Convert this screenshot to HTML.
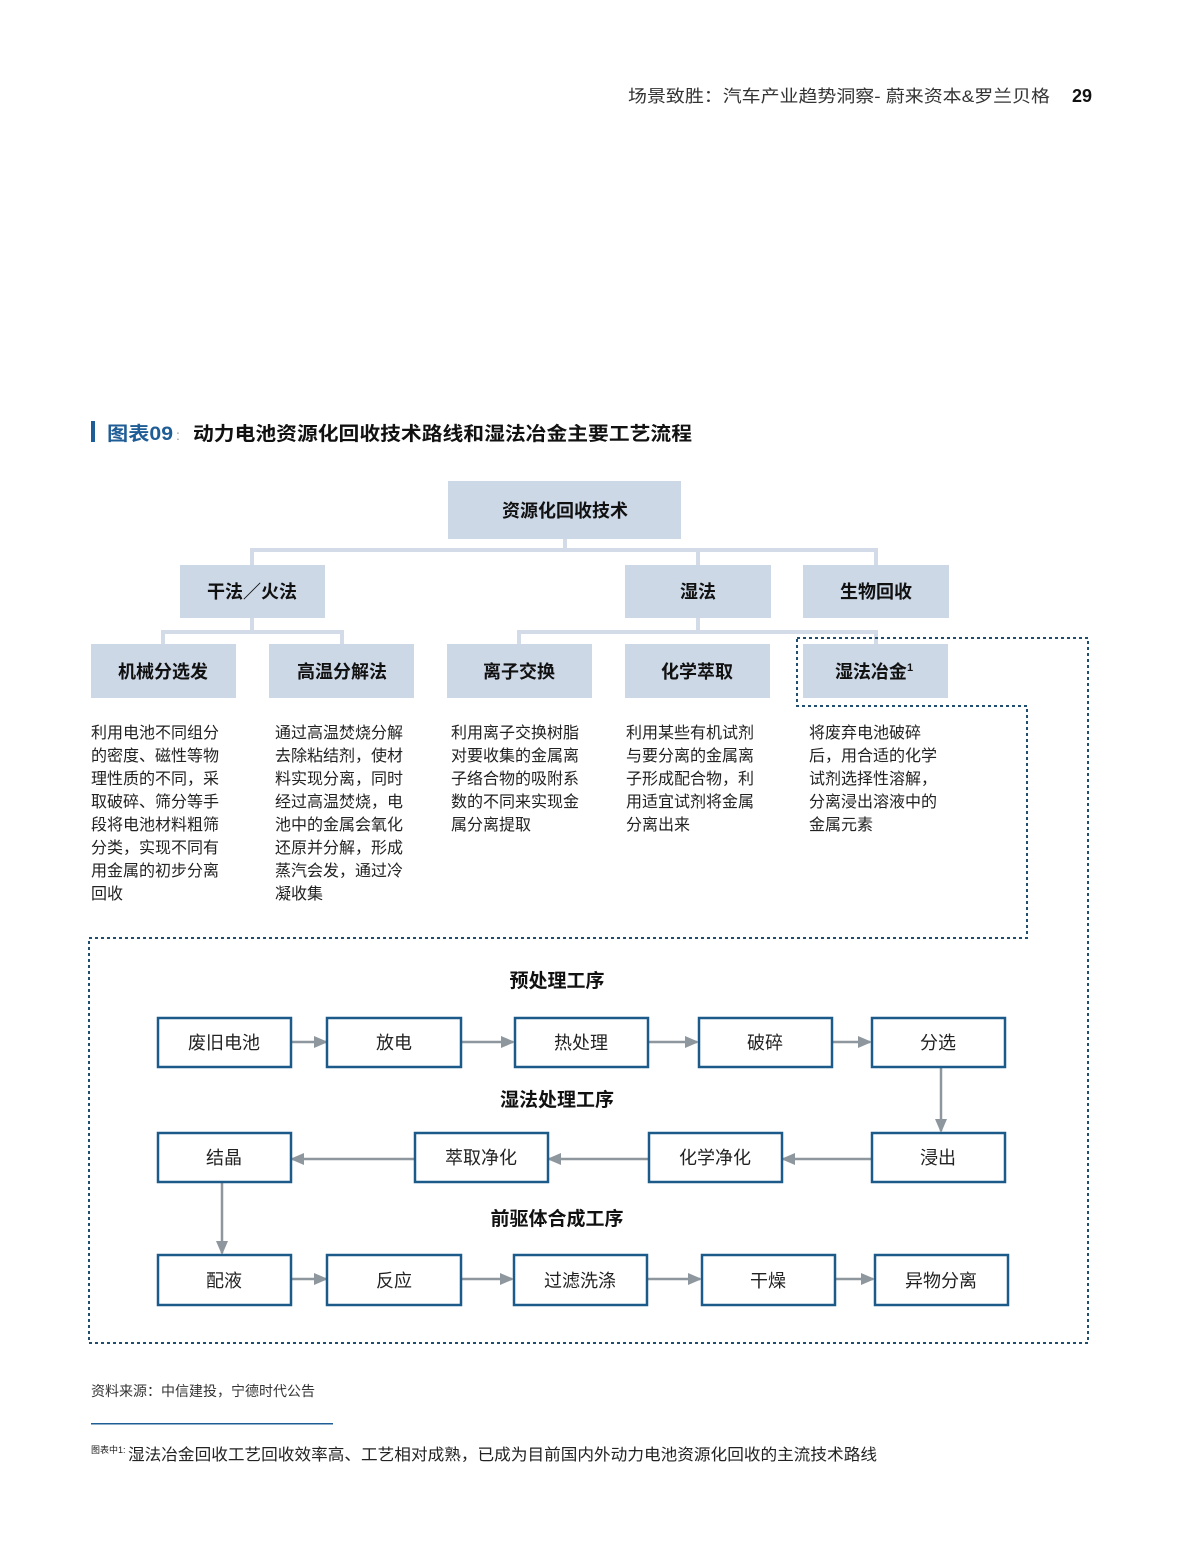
<!DOCTYPE html>
<html><head><meta charset="utf-8"><style>
html,body{margin:0;padding:0;background:#fff;}
svg{display:block;}
text{font-family:"Liberation Sans","Noto Sans CJK SC",sans-serif;}
</style></head><body>
<svg width="1181" height="1565" viewBox="0 0 1181 1565" xmlns="http://www.w3.org/2000/svg">
<defs>
<marker id="ah" markerWidth="14" markerHeight="12" refX="12" refY="6" orient="auto" markerUnits="userSpaceOnUse">
<path d="M0,0 L14,6 L0,12 Z" fill="#8e969e"/></marker>
</defs>
<!-- header -->
<text x="628" y="102" font-size="17" fill="#333" textLength="422" lengthAdjust="spacingAndGlyphs">场景致胜：汽车产业趋势洞察- 蔚来资本&amp;罗兰贝格</text>
<text x="1072" y="102" font-size="18" font-weight="bold" fill="#111">29</text>
<!-- title -->
<rect x="91" y="421" width="4" height="21" fill="#1f5d96"/>
<text x="107" y="440" font-size="19" font-weight="bold" fill="#1f5d96" textLength="66" lengthAdjust="spacingAndGlyphs">图表09</text>
<text x="176" y="440" font-size="14" fill="#999">:</text>
<text x="193" y="440" font-size="19" font-weight="bold" fill="#111" textLength="499" lengthAdjust="spacingAndGlyphs">动力电池资源化回收技术路线和湿法冶金主要工艺流程</text>
<!-- tree connectors -->
<g stroke="#d2dbe7" stroke-width="4" fill="none">
<path d="M565 539 V550 M252 565 V550 H876 V565 M698 550 V565"/>
<path d="M252 618 V632 M163 644 V632 H342 V644"/>
<path d="M698 618 V632 M519 644 V632 H876 V644"/>
</g>
<g fill="#cdd8e7">
<rect x="448" y="481" width="233" height="58"/>
<rect x="180" y="565" width="145" height="53"/>
<rect x="625" y="565" width="146" height="53"/>
<rect x="803" y="565" width="146" height="53"/>
<rect x="91" y="644" width="145" height="54"/>
<rect x="269" y="644" width="145" height="54"/>
<rect x="447" y="644" width="145" height="54"/>
<rect x="625" y="644" width="145" height="54"/>
<rect x="803" y="644" width="145" height="54"/>
</g>
<g font-size="18" font-weight="bold" fill="#111" text-anchor="middle">
<text x="565" y="517">资源化回收技术</text>
<text x="252" y="598">干法／火法</text>
<text x="698" y="598">湿法</text>
<text x="876" y="598">生物回收</text>
<text x="163" y="678">机械分选发</text>
<text x="342" y="678">高温分解法</text>
<text x="519" y="678">离子交换</text>
<text x="697" y="678">化学萃取</text>
<text x="874" y="678">湿法冶金<tspan font-size="11" dy="-7">1</tspan></text>
</g>
<!-- dotted outline -->
<path d="M797 638 H1088 V1343 H89 V938 H1027 V706 H797 Z" fill="none" stroke="#1f4e6e" stroke-width="2" stroke-dasharray="3,3"/>
<!-- paragraphs -->
<g font-size="16" fill="#222">
<text x="91" y="738">利用电池不同组分</text><text x="91" y="761">的密度、磁性等物</text><text x="91" y="784">理性质的不同，采</text><text x="91" y="807">取破碎、筛分等手</text><text x="91" y="830">段将电池材料粗筛</text><text x="91" y="853">分类，实现不同有</text><text x="91" y="876">用金属的初步分离</text><text x="91" y="899">回收</text>
<text x="275" y="738">通过高温焚烧分解</text><text x="275" y="761">去除粘结剂，使材</text><text x="275" y="784">料实现分离，同时</text><text x="275" y="807">经过高温焚烧，电</text><text x="275" y="830">池中的金属会氧化</text><text x="275" y="853">还原并分解，形成</text><text x="275" y="876">蒸汽会发，通过冷</text><text x="275" y="899">凝收集</text>
<text x="451" y="738">利用离子交换树脂</text><text x="451" y="761">对要收集的金属离</text><text x="451" y="784">子络合物的吸附系</text><text x="451" y="807">数的不同来实现金</text><text x="451" y="830">属分离提取</text>
<text x="626" y="738">利用某些有机试剂</text><text x="626" y="761">与要分离的金属离</text><text x="626" y="784">子形成配合物，利</text><text x="626" y="807">用适宜试剂将金属</text><text x="626" y="830">分离出来</text>
<text x="809" y="738">将废弃电池破碎</text><text x="809" y="761">后，用合适的化学</text><text x="809" y="784">试剂选择性溶解，</text><text x="809" y="807">分离浸出溶液中的</text><text x="809" y="830">金属元素</text>
</g>
<!-- flow headings -->
<g font-size="19" font-weight="bold" fill="#111" text-anchor="middle">
<text x="557" y="987">预处理工序</text>
<text x="557" y="1106">湿法处理工序</text>
<text x="557" y="1225">前驱体合成工序</text>
</g>
<!-- arrows -->
<g stroke="#8e969e" stroke-width="2.5" fill="none" marker-end="url(#ah)">
<path d="M291 1042 H326"/><path d="M461 1042 H513"/><path d="M648 1042 H697"/><path d="M832 1042 H870"/>
<path d="M941 1067 V1131"/>
<path d="M871 1159 H783"/><path d="M648 1159 H549"/><path d="M414 1159 H292"/>
<path d="M222 1182 V1253"/>
<path d="M291 1279 H326"/><path d="M461 1279 H512"/><path d="M647 1279 H700"/><path d="M835 1279 H873"/>
</g>
<g fill="#fff" stroke="#1c5a8a" stroke-width="2.5">
<rect x="158" y="1018" width="133" height="49"/><rect x="327" y="1018" width="134" height="49"/><rect x="515" y="1018" width="133" height="49"/><rect x="699" y="1018" width="133" height="49"/><rect x="872" y="1018" width="133" height="49"/>
<rect x="158" y="1133" width="133" height="49"/><rect x="415" y="1133" width="133" height="49"/><rect x="649" y="1133" width="133" height="49"/><rect x="872" y="1133" width="133" height="49"/>
<rect x="158" y="1255" width="133" height="50"/><rect x="327" y="1255" width="134" height="50"/><rect x="514" y="1255" width="133" height="50"/><rect x="702" y="1255" width="133" height="50"/><rect x="875" y="1255" width="133" height="50"/>
</g>
<g font-size="18" fill="#222" text-anchor="middle">
<text x="224" y="1049">废旧电池</text><text x="394" y="1049">放电</text><text x="581" y="1049">热处理</text><text x="765" y="1049">破碎</text><text x="938" y="1049">分选</text>
<text x="224" y="1164">结晶</text><text x="481" y="1164">萃取净化</text><text x="715" y="1164">化学净化</text><text x="938" y="1164">浸出</text>
<text x="224" y="1287">配液</text><text x="394" y="1287">反应</text><text x="580" y="1287">过滤洗涤</text><text x="768" y="1287">干燥</text><text x="941" y="1287">异物分离</text>
</g>
<!-- footer -->
<text x="91" y="1396" font-size="14" fill="#333">资料来源：中信建投，宁德时代公告</text>
<rect x="91" y="1423" width="242" height="1.5" fill="#1f5d96"/>
<text x="91" y="1453" font-size="9" fill="#222">图表中1:</text>
<text x="128" y="1460" font-size="16" fill="#222" textLength="749" lengthAdjust="spacingAndGlyphs">湿法冶金回收工艺回收效率高、工艺相对成熟，已成为目前国内外动力电池资源化回收的主流技术路线</text>
</svg>
</body></html>
